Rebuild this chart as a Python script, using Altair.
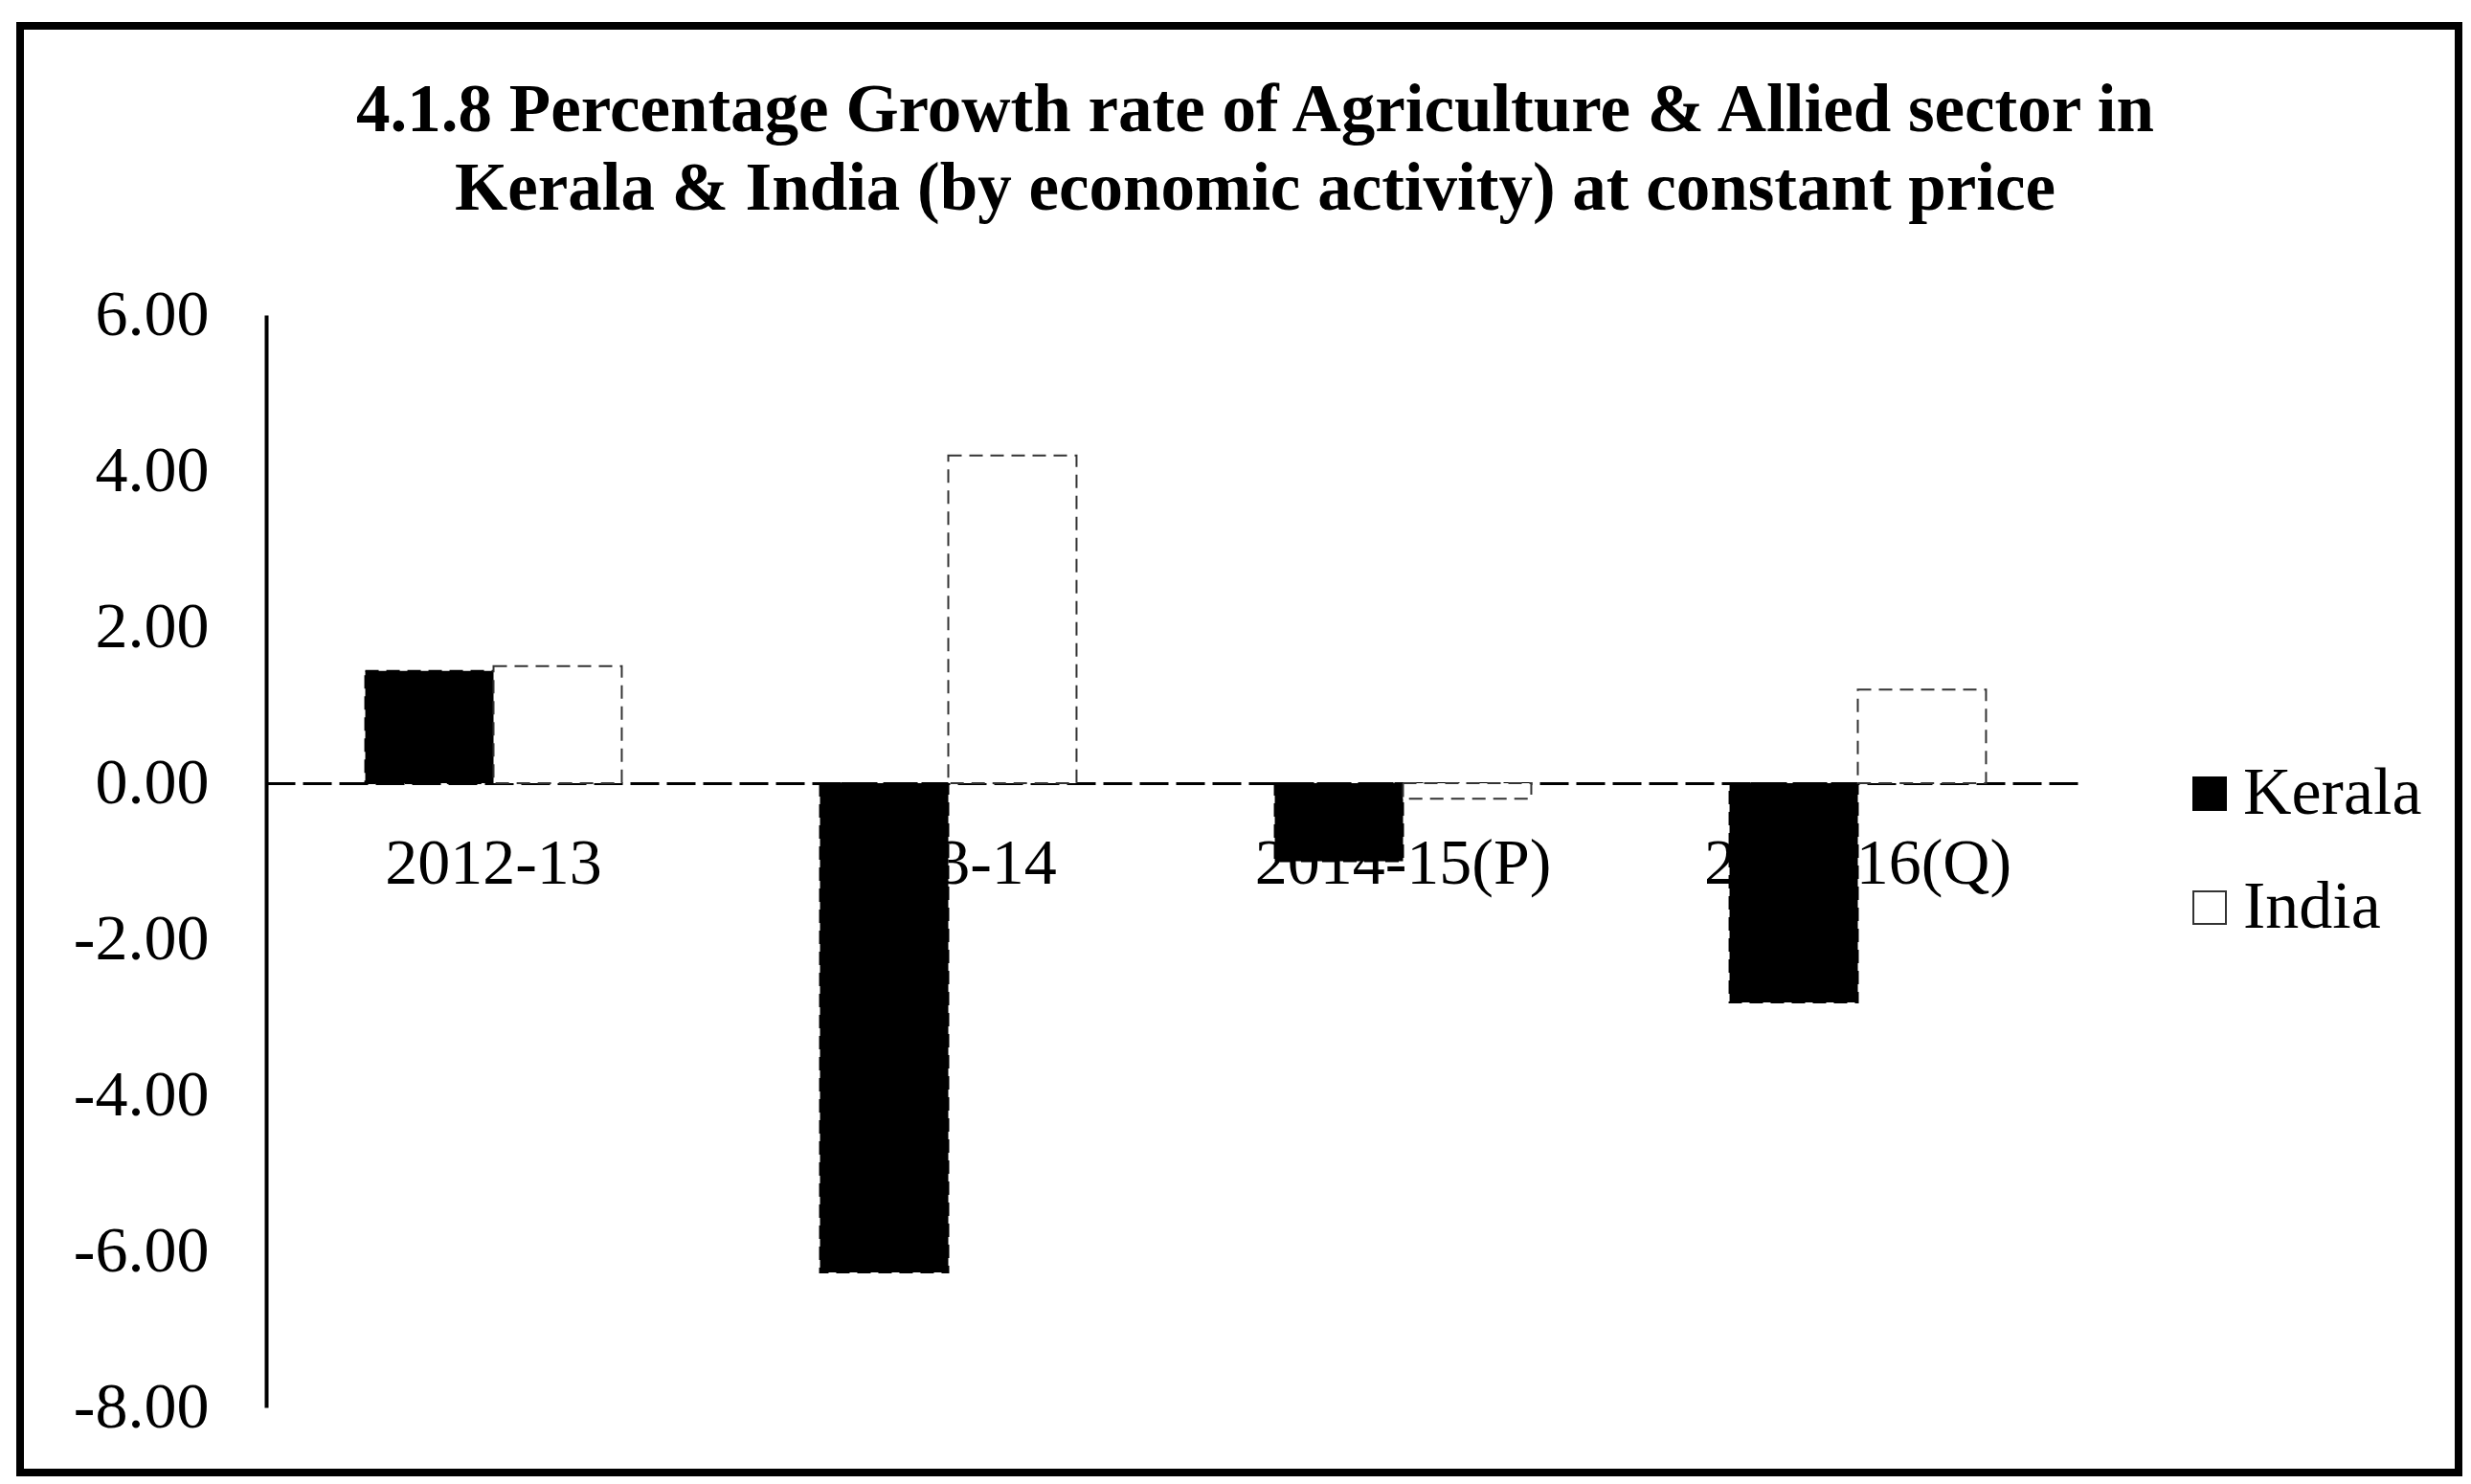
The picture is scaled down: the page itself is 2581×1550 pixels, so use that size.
import altair as alt
import pandas as pd

categories = ["2012-13", "2013-14", "2014-15(P)", "2015-16(Q)"]
series = ["Kerala", "India"]
kerala = [1.44, -6.27, -1.00, -2.81]
india = [1.50, 4.20, -0.20, 1.20]
y_ticks = [-8, -6, -4, -2, 0, 2, 4, 6]
title_lines = [
    "4.1.8 Percentage Growth rate of Agriculture & Allied sector in",
    "Kerala & India (by economic activity) at constant price",
]

rows = []
for i, c in enumerate(categories):
    rows.append({"Year": c, "Region": "Kerala", "Growth": kerala[i]})
    rows.append({"Year": c, "Region": "India", "Growth": india[i]})
df = pd.DataFrame(rows)

FONT = "Liberation Serif"

legend = alt.Legend(
    orient="none", legendX=1995, legendY=465, title=None,
    labelFont=FONT, labelFontSize=70, labelColor="black", labelLimit=0,
    symbolType="square", symbolSize=1156, symbolStrokeWidth=2,
    rowPadding=49, labelOffset=0,
)

bars = alt.Chart(df).mark_bar(strokeWidth=2, strokeDash=[14, 8]).encode(
    x=alt.X("Year:N", sort=categories, title=None,
            scale=alt.Scale(paddingInner=0.436, paddingOuter=0.218),
            axis=alt.Axis(orient="bottom", offset=-652, labelAngle=0,
                          labelFont=FONT, labelFontSize=68, labelColor="black",
                          labelPadding=50, labelLimit=0, ticks=False,
                          domainColor="black", domainWidth=3,
                          domainDash=[30, 8], grid=False)),
    xOffset=alt.XOffset("Region:N", sort=series, scale=alt.Scale(padding=0)),
    y=alt.Y("Growth:Q", title=None,
            scale=alt.Scale(domain=[-8, 6], nice=False, zero=False),
            axis=alt.Axis(values=y_ticks, format=".2f",
                          labelExpr="replace(datum.label, '\u2212', '-')",
                          labelFont=FONT, labelFontSize=68, labelColor="black",
                          labelPadding=60, ticks=False, grid=False,
                          domainColor="black", domainWidth=4)),
    fill=alt.Fill("Region:N", sort=series,
                  scale=alt.Scale(domain=series, range=["#000000", "#ffffff"]),
                  legend=legend),
    stroke=alt.Stroke("Region:N", sort=series,
                      scale=alt.Scale(domain=series, range=["#000000", "#333333"]),
                      legend=legend),
)

frame = alt.Chart(pd.DataFrame({"k": [0]})).mark_rect(
    fillOpacity=0, stroke="black", strokeWidth=8
).encode(
    x=alt.value(-257), x2=alt.value(2290), y=alt.value(-302), y2=alt.value(1209)
)

chart = alt.layer(bars, frame).properties(
    width=1900, height=1141,
    title=alt.TitleParams(text=title_lines, font=FONT, fontSize=71,
                          fontWeight="bold", color="black", anchor="middle",
                          dx=83, lineHeight=82, baseline="bottom", offset=-282),
    autosize=alt.AutoSizeParams(type="none"),
    padding={"left": 270, "top": 321, "right": 395, "bottom": 76},
).configure(
    background="white", view=alt.ViewConfig(stroke="transparent")
)

chart.save("out.html", embed_options={"renderer": "svg", "actions": False})
